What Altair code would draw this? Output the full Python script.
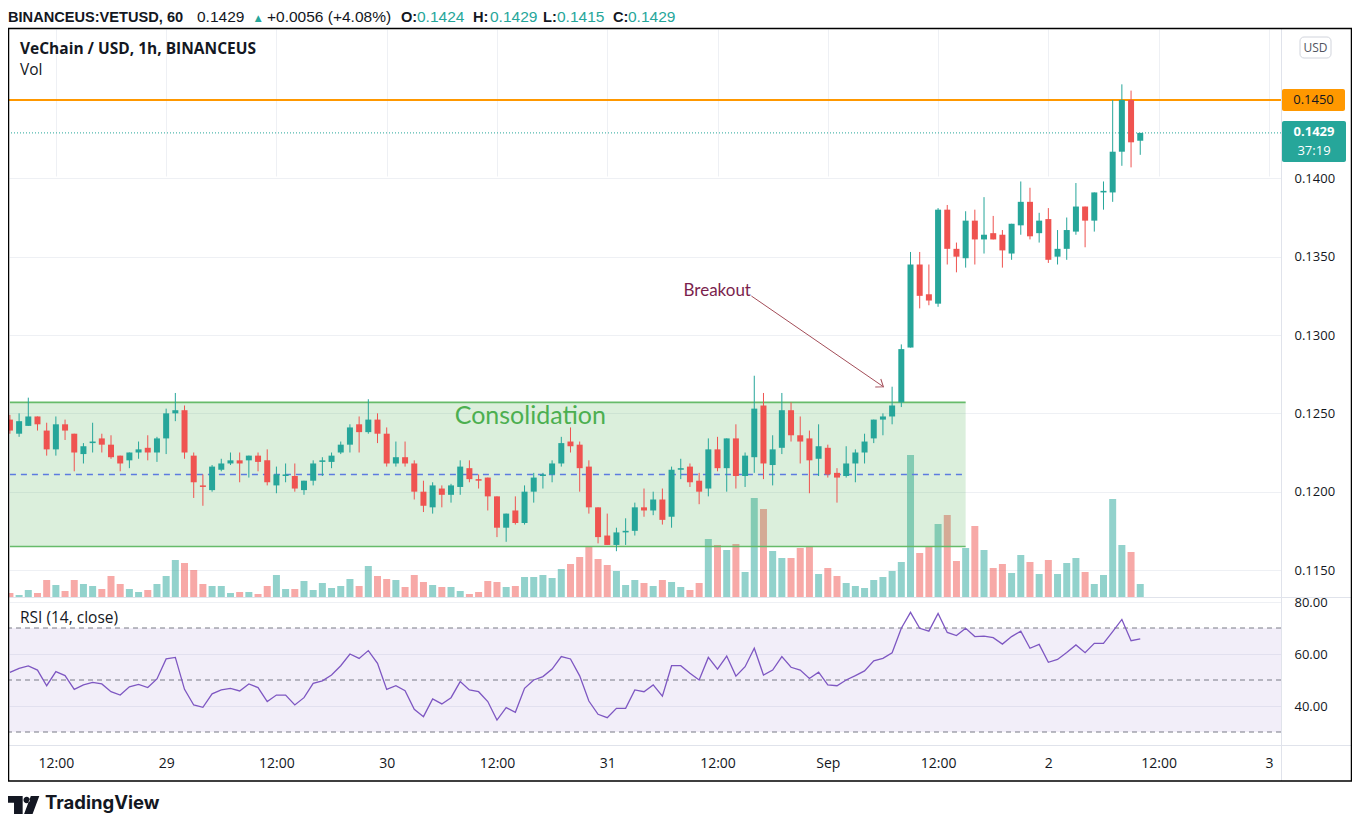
import altair as alt
import pandas as pd

# ---------------- data (1h candles, BINANCEUS:VETUSD) ----------------
FIRST_BAR = "2021-08-28 07:00"
OPEN = [0.1246,0.1237,0.1242,0.1248,0.1239,0.1227,0.1243,0.1237,0.1224,0.1231,
        0.1234,0.1230,0.1223,0.1220,0.1225,0.1228,0.1225,0.1234,0.1250,0.1252,
        0.1223,0.1204,0.1201,0.1214,0.1218,0.1220,0.1220,0.1223,0.1220,0.1204,
        0.1210,0.1210,0.1201,0.1207,0.1219,0.1219,0.1225,0.1230,0.1243,0.1238,
        0.1246,0.1237,0.1218,0.1222,0.1218,0.1200,0.1190,0.1202,0.1198,0.1203,
        0.1215,0.1208,0.1209,0.1197,0.1177,0.1188,0.1180,0.1200,0.1210,0.1211,
        0.1218,0.1232,0.1230,0.1216,0.1190,0.1172,0.1166,0.1174,0.1175,0.1190,
        0.1188,0.1195,0.1184,0.1214,0.1216,0.1207,0.1202,0.1227,0.1215,0.1234,
        0.1210,0.1222,0.1255,0.1217,0.1228,0.1252,0.1236,0.1234,0.1221,0.1228,
        0.1212,0.1210,0.1218,0.1225,0.1234,0.1246,0.1248,0.1257,0.1292,0.1345,
        0.1326,0.1320,0.1380,0.1355,0.1349,0.1373,0.1361,0.1365,0.1364,0.1352,
        0.1370,0.1385,0.1365,0.1374,0.1350,0.1355,0.1366,0.1382,0.1373,0.1391,
        0.1391,0.1417,0.1450,0.1424]
HIGH = [0.1249,0.1250,0.1260,0.1248,0.1244,0.1248,0.1246,0.1237,0.1231,0.1244,
        0.1237,0.1236,0.1223,0.1225,0.1232,0.1236,0.1235,0.1253,0.1263,0.1255,
        0.1225,0.1211,0.1217,0.1221,0.1225,0.1225,0.1223,0.1225,0.1227,0.1216,
        0.1218,0.1218,0.1207,0.1220,0.1222,0.1225,0.1232,0.1243,0.1248,0.1259,
        0.1250,0.1241,0.1232,0.1232,0.1220,0.1207,0.1206,0.1204,0.1205,0.1220,
        0.1220,0.1211,0.1209,0.1197,0.1186,0.1197,0.1204,0.1212,0.1212,0.1220,
        0.1235,0.1241,0.1232,0.1220,0.1190,0.1186,0.1177,0.1183,0.1193,0.1202,
        0.1200,0.1202,0.1216,0.1221,0.1218,0.1212,0.1234,0.1235,0.1234,0.1243,
        0.1225,0.1274,0.1263,0.1236,0.1263,0.1257,0.1248,0.1239,0.1243,0.1230,
        0.1215,0.1229,0.1227,0.1237,0.1246,0.1250,0.1267,0.1294,0.1353,0.1353,
        0.1345,0.1381,0.1383,0.1359,0.1379,0.1380,0.1388,0.1376,0.1367,0.1371,
        0.1398,0.1394,0.1378,0.1381,0.1367,0.1375,0.1397,0.1382,0.1391,0.1398,
        0.1450,0.1460,0.1456,0.1429]
LOW = [0.1237,0.1235,0.1242,0.1239,0.1223,0.1223,0.1233,0.1213,0.1218,0.1225,
       0.1225,0.1221,0.1213,0.1215,0.1221,0.1220,0.1219,0.1224,0.1245,0.1221,
       0.1196,0.1191,0.1200,0.1213,0.1217,0.1206,0.1209,0.1213,0.1204,0.1199,
       0.1206,0.1200,0.1198,0.1204,0.1210,0.1215,0.1224,0.1225,0.1225,0.1237,
       0.1231,0.1216,0.1216,0.1216,0.1195,0.1187,0.1186,0.1190,0.1193,0.1198,
       0.1206,0.1202,0.1188,0.1171,0.1168,0.1179,0.1179,0.1193,0.1202,0.1206,
       0.1216,0.1225,0.1200,0.1186,0.1167,0.1166,0.1162,0.1166,0.1172,0.1184,
       0.1185,0.1179,0.1177,0.1208,0.1203,0.1192,0.1197,0.1213,0.1200,0.1202,
       0.1203,0.1212,0.1208,0.1204,0.1224,0.1232,0.1218,0.1199,0.1210,0.1209,
       0.1193,0.1209,0.1206,0.1218,0.1231,0.1236,0.1243,0.1254,0.1292,0.1317,
       0.1319,0.1318,0.1345,0.1340,0.1343,0.1345,0.1352,0.1361,0.1343,0.1348,
       0.1364,0.1361,0.1359,0.1346,0.1345,0.1348,0.1364,0.1356,0.1366,0.1380,
       0.1385,0.1408,0.1407,0.1415]
CLOSE = [0.1239,0.1245,0.1248,0.1243,0.1227,0.1243,0.1239,0.1225,0.1229,0.1232,
         0.1230,0.1222,0.1218,0.1225,0.1227,0.1225,0.1234,0.1250,0.1252,0.1225,
         0.1206,0.1203,0.1216,0.1218,0.1220,0.1218,0.1223,0.1219,0.1206,0.1211,
         0.1211,0.1202,0.1207,0.1218,0.1220,0.1223,0.1230,0.1241,0.1238,0.1246,
         0.1237,0.1218,0.1222,0.1218,0.1200,0.1191,0.1204,0.1198,0.1204,0.1216,
         0.1208,0.1207,0.1197,0.1177,0.1186,0.1180,0.1200,0.1209,0.1211,0.1218,
         0.1231,0.1229,0.1215,0.1190,0.1171,0.1166,0.1174,0.1175,0.1190,0.1188,
         0.1195,0.1182,0.1214,0.1215,0.1206,0.1200,0.1227,0.1215,0.1234,0.1210,
         0.1223,0.1253,0.1218,0.1227,0.1252,0.1236,0.1232,0.1220,0.1229,0.1211,
         0.1209,0.1218,0.1225,0.1232,0.1246,0.1248,0.1255,0.1291,0.1345,0.1325,
         0.1322,0.1380,0.1355,0.1350,0.1373,0.1361,0.1364,0.1361,0.1354,0.1371,
         0.1385,0.1363,0.1373,0.1348,0.1355,0.1367,0.1382,0.1373,0.1391,0.1392,
         0.1417,0.1450,0.1423,0.1429]
VOLUME_K = [400,200,700,400,1700,1200,600,1700,1300,1100,
            800,2100,1300,800,500,700,1300,2100,3700,3400,
            2700,1300,1100,1100,400,500,500,300,1100,2200,
            800,800,1600,700,1400,900,1100,1800,1100,3100,
            2100,1800,1700,1000,2200,1500,1200,1000,1000,600,
            300,500,1600,1500,1000,1100,2000,2000,2200,1900,
            2800,3300,4000,5000,3800,3200,2600,1200,1700,1400,
            1100,1700,1500,1000,700,1400,5800,5200,4700,5300,
            2500,9900,8800,4600,3900,3900,4900,5100,2300,2900,
            2100,1400,1100,900,1700,2000,2600,3500,14200,4400,
            5100,7300,8200,3600,4900,7100,4700,2900,3300,2400,
            4200,3500,2300,3700,2300,3400,3900,2500,1300,2200,
            9800,5200,4500,1300]
RSI = [52.9,54.5,55.4,53.8,47.8,53.2,51.7,46.4,48.1,49.1,
       48.5,45.5,44.2,47.4,48.3,47.1,50.4,58.1,58.7,46.4,
       40.4,39.5,44.7,46.2,46.8,45.8,48.5,47.1,41.7,44.2,
       44.2,40.4,43.2,48.7,49.7,51.9,55.5,60.0,58.3,61.3,
       56.4,46.4,47.8,45.9,38.7,35.9,42.7,40.8,43.2,49.4,
       46.2,45.5,41.7,34.6,39.4,37.6,46.8,50.0,51.3,54.2,
       59.0,58.1,51.6,41.9,36.8,35.5,39.1,39.1,46.2,45.5,
       48.1,43.8,55.5,55.5,52.6,50.0,58.7,54.2,59.2,51.5,
       55.1,62.2,51.9,53.8,59.0,54.9,53.8,50.6,53.0,48.1,
       47.8,50.0,51.7,53.5,57.4,58.3,60.5,69.9,76.0,69.9,
       68.8,75.6,68.3,67.1,69.9,66.7,66.9,66.3,63.8,66.7,
       68.8,62.2,63.7,56.8,57.9,60.6,63.5,60.5,64.1,64.1,
       68.6,73.3,65.1,65.8]

X_START = "2021-08-28 06:54"
X_END = "2021-09-03 01:19"
TICK_TIMES = ["2021-08-28 12:00", "2021-08-29 00:00", "2021-08-29 12:00", "2021-08-30 00:00",
              "2021-08-30 12:00", "2021-08-31 00:00", "2021-08-31 12:00", "2021-09-01 00:00",
              "2021-09-01 12:00", "2021-09-02 00:00", "2021-09-02 12:00", "2021-09-03 00:00"]
PRICE_TICKS = [0.1150, 0.1200, 0.1250, 0.1300, 0.1350, 0.1400]
PRICE_DOMAIN = [0.113277, 0.149532]
VOL_DOMAIN = [0, 56800]
RSI_TICKS = [40, 60, 80]
RSI_DOMAIN = [25, 81.54]
RSI_LEVELS = [70, 50, 30]
RSI_BAND = [30, 70]

BOX_START, BOX_END = "2021-08-28 07:00", "2021-09-01 15:00"
BOX_TOP, BOX_BOTTOM, BOX_MID = 0.1257, 0.1165, 0.1211
RESISTANCE = 0.1450
LAST_PRICE = 0.1429
COUNTDOWN = "37:19"
CONSOL_T, CONSOL_P = "2021-08-30 07:24", 0.12483
BREAK_T, BREAK_P = "2021-08-31 08:18", 0.13281
ARROW_T0, ARROW_P0 = "2021-08-31 15:41", 0.13249
ARROW_T1, ARROW_P1 = "2021-09-01 06:03", 0.12670

# (text, x, weight, colour, size)
HEADER = [("BINANCEUS:VETUSD, 60", -1, "bold", "#131722", 14.6),
          ("0.1429", 188, "normal", "#131722", 15.5),
          ("\u25B2", 243.5, "normal", "#26a69a", 11.5),
          ("+0.0056 (+4.08%)", 258, "normal", "#131722", 15.5),
          ("O:", 392, "bold", "#131722", 14.6), ("0.1424", 408, "normal", "#26a69a", 15.5),
          ("H:", 464, "bold", "#131722", 14.6), ("0.1429", 481, "normal", "#26a69a", 15.5),
          ("L:", 534, "bold", "#131722", 14.6), ("0.1415", 548, "normal", "#26a69a", 15.5),
          ("C:", 604, "bold", "#131722", 14.6), ("0.1429", 619, "normal", "#26a69a", 15.5)]

# ---------------- styles ----------------
UP, DOWN = "#26a69a", "#ef5350"
FONT = "Open Sans"
HFONT = "Liberation Sans"
TXT = "#131722"
GRID = "#eef0f4"
SEP = "#e0e3eb"
W, H = 1272, 716
PRICE_H = 568
# TradingView logo drawn as one filled symbol path (T block, dot, slash)
LOGO_PATH = ("M -1 -0.5625 L -0.04 -0.5625 L -0.04 0.5625 L -0.58 0.5625 L -0.58 -0.14 L -1 -0.14 Z "
             "M 0.01 -0.3125 A 0.2 0.2 0 1 0 0.41 -0.3125 A 0.2 0.2 0 1 0 0.01 -0.3125 Z "
             "M 0.47 -0.5625 L 1 -0.5625 L 0.58 0.5625 L 0.05 0.5625 Z")

def ts(s):
    return pd.Timestamp(s)

def dt(s):
    t = pd.Timestamp(s)
    return alt.DateTime(year=t.year, month=t.month, date=t.day, hours=t.hour, minutes=t.minute)

candles = pd.DataFrame({"t": pd.date_range(FIRST_BAR, periods=len(CLOSE), freq="h"),
                        "o": OPEN, "h": HIGH, "l": LOW, "c": CLOSE, "v": VOLUME_K, "rsi": RSI})
candles["dir"] = ["up" if c >= o else "down" for o, c in zip(OPEN, CLOSE)]

xscale = alt.Scale(domain=[dt(X_START), dt(X_END)], nice=False, padding=0)
xaxis = alt.Axis(values=[dt(s) for s in TICK_TIMES],
                 labelExpr="hours(datum.value) == 12 ? '12:00' : (date(datum.value) == 1 ? 'Sep' : timeFormat(datum.value, '%-d'))",
                 grid=True, gridColor=GRID, domain=False, ticks=False, tickSize=0,
                 labelPadding=11, labelFont=FONT, labelFontSize=14, labelColor=TXT,
                 labelFlush=False, labelOverlap=False)

def X(f):
    return alt.X(f + ":T", scale=xscale, axis=xaxis, title=None)

price_scale = alt.Scale(domain=PRICE_DOMAIN, range=[PRICE_H, 0], nice=False, zero=False, padding=0)
vol_scale = alt.Scale(domain=VOL_DOMAIN, range=[PRICE_H, 0], nice=False, zero=False, padding=0)
rsi_scale = alt.Scale(domain=RSI_DOMAIN, range=[H, PRICE_H + 1], nice=False, zero=False, padding=0)

price_axis = alt.Axis(orient="right", values=PRICE_TICKS, format=".4f", grid=True, gridColor=GRID,
                      domain=False, ticks=False, tickSize=0, labelPadding=13, labelFont=FONT,
                      labelFontSize=13, labelColor=TXT, labelFlush=False, labelOverlap=False)
rsi_axis = alt.Axis(orient="right", values=RSI_TICKS, format=".2f", grid=True, gridColor=GRID,
                    domain=False, ticks=False, tickSize=0, labelPadding=13, labelFont=FONT,
                    labelFontSize=13, labelColor=TXT, labelFlush=False, labelOverlap=False)

def PY(f, axis=None):
    return alt.Y(f + ":Q", scale=price_scale, axis=axis, title=None)

def RY(f, axis=None):
    return alt.Y(f + ":Q", scale=rsi_scale, axis=axis, title=None)

color_enc = alt.Color("dir:N", scale=alt.Scale(domain=["up", "down"], range=[UP, DOWN]), legend=None)
one = pd.DataFrame({"k": [0]})

# ---------------- RSI pane ----------------
band_df = pd.DataFrame({"t0": [ts(X_START)], "t1": [ts(X_END)], "lo": [RSI_BAND[0]], "hi": [RSI_BAND[1]]})
rsi_band = alt.Chart(band_df).mark_rect(color="#7e57c2", opacity=0.1).encode(
    x=X("t0"), x2="t1", y=RY("lo", rsi_axis), y2="hi")
rsi_lv = alt.Chart(pd.DataFrame({"lvl": RSI_LEVELS})).mark_rule(
    color="#787b86", strokeDash=[5, 4], strokeWidth=1).encode(y=RY("lvl"))
rsi_line = alt.Chart(candles).mark_line(color="#7e57c2", strokeWidth=1.3).encode(
    x=X("t"), y=RY("rsi"))

# ---------------- price pane ----------------
volume = alt.Chart(candles).mark_bar(size=7, opacity=0.5).encode(
    x=X("t"), y=alt.Y("v:Q", scale=vol_scale, axis=None, title=None), color=color_enc)

box_df = pd.DataFrame({"t0": [ts(BOX_START)], "t1": [ts(BOX_END)], "top": [BOX_TOP], "bot": [BOX_BOTTOM]})
box_fill = alt.Chart(box_df).mark_rect(color="#4caf50", opacity=0.2).encode(
    x=X("t0"), x2="t1", y=PY("bot"), y2="top")
edge_df = pd.DataFrame({"t0": [ts(BOX_START)] * 2, "t1": [ts(BOX_END)] * 2, "lvl": [BOX_TOP, BOX_BOTTOM]})
box_edges = alt.Chart(edge_df).mark_rule(color="#66bb6a", strokeWidth=1.6).encode(
    x=X("t0"), x2="t1", y=PY("lvl"))
mid_df = pd.DataFrame({"t0": [ts(BOX_START)], "t1": [ts(BOX_END)], "lvl": [BOX_MID]})
box_mid = alt.Chart(mid_df).mark_rule(color="#5d7be0", strokeWidth=1.6, strokeDash=[6, 5]).encode(
    x=X("t0"), x2="t1", y=PY("lvl"))
consol = alt.Chart(pd.DataFrame({"t": [ts(CONSOL_T)], "p": [CONSOL_P], "s": ["Consolidation"]})).mark_text(
    align="left", baseline="middle", font="Lato", fontSize=25, color="#4caf50").encode(
    x=X("t"), y=PY("p"), text="s:N")

resist = alt.Chart(pd.DataFrame({"p": [RESISTANCE]})).mark_rule(color="#ff9800", strokeWidth=2).encode(y=PY("p"))
lastp = alt.Chart(pd.DataFrame({"p": [LAST_PRICE]})).mark_rule(
    color=UP, strokeWidth=1, strokeDash=[1, 2]).encode(y=PY("p"))

wicks = alt.Chart(candles).mark_rule(strokeWidth=1).encode(
    x=X("t"), y=PY("l", price_axis), y2="h", color=color_enc)
bodies = alt.Chart(candles).mark_bar(size=6).encode(
    x=X("t"), y=PY("o"), y2="c", color=color_enc)

ARROW = "#a34d58"
brk = alt.Chart(pd.DataFrame({"t": [ts(BREAK_T)], "p": [BREAK_P], "s": ["Breakout"]})).mark_text(
    align="left", baseline="middle", font="Lato", fontSize=17, color="#7b1f4d").encode(
    x=X("t"), y=PY("p"), text="s:N")
arr_df = pd.DataFrame({"t0": [ts(ARROW_T0)], "t1": [ts(ARROW_T1)], "p0": [ARROW_P0], "p1": [ARROW_P1]})
arrow = alt.Chart(arr_df).mark_rule(color=ARROW, strokeWidth=1).encode(
    x=X("t0"), x2="t1", y=PY("p0"), y2="p1")
head = alt.Chart(arr_df).mark_point(shape="M -1 -0.75 L 0 0 L -1 0.75", size=170, angle=34.5,
                                    filled=False, color=ARROW, strokeWidth=1, opacity=1).encode(
    x=X("t1"), y=PY("p1"))

# ---------------- right price column ----------------
tag_r = alt.Chart(pd.DataFrame({"p": [RESISTANCE]}))
orange_tag = tag_r.mark_tick(orient="horizontal", size=63, thickness=22, color="#ff9800",
                             opacity=1, cornerRadius=2).encode(x=alt.value(1304.5), y=PY("p"))
orange_txt = tag_r.mark_text(font=FONT, fontSize=13, color=TXT).encode(
    x=alt.value(1304.5), y=PY("p"), text=alt.Text("p:Q", format=".4f"))
tag_l = alt.Chart(pd.DataFrame({"p": [LAST_PRICE], "cd": [COUNTDOWN]}))
teal_tag = tag_l.mark_tick(orient="horizontal", size=64, thickness=41, color=UP, opacity=1,
                           cornerRadius=2, yOffset=8.5).encode(x=alt.value(1305), y=PY("p"))
teal_txt = tag_l.mark_text(font=FONT, fontSize=13, fontWeight="bold", color="white", yOffset=-1).encode(
    x=alt.value(1305), y=PY("p"), text=alt.Text("p:Q", format=".4f"))
teal_cd = tag_l.mark_text(font=FONT, fontSize=13, color="white", yOffset=18).encode(
    x=alt.value(1305), y=PY("p"), text="cd:N")

usd_box = alt.Chart(one).mark_rect(fill="white", stroke="#d1d4dc", strokeWidth=1, cornerRadius=4).encode(
    x=alt.value(1291), x2=alt.value(1322), y=alt.value(8), y2=alt.value(29))
usd_txt = alt.Chart(one).mark_text(font=FONT, fontSize=12, color="#50535e").encode(
    x=alt.value(1306.5), y=alt.value(18.5), text=alt.value("USD"))

# ---------------- frame & separators ----------------
sep_v = alt.Chart(one).mark_rule(color=SEP, strokeWidth=1).encode(
    x=alt.value(W + 0.5), y=alt.value(-1), y2=alt.value(752))
sep_h1 = alt.Chart(one).mark_rule(color=SEP, strokeWidth=1).encode(
    x=alt.value(0), x2=alt.value(1343), y=alt.value(PRICE_H + 0.5))
sep_h2 = alt.Chart(one).mark_rule(color=SEP, strokeWidth=1).encode(
    x=alt.value(-1), x2=alt.value(1343), y=alt.value(H + 0.5))
frame = alt.Chart(one).mark_rect(fillOpacity=0, stroke="#000000", strokeWidth=1.5).encode(
    x=alt.value(-0.5), x2=alt.value(1342.5), y=alt.value(-0.5), y2=alt.value(752))

# ---------------- texts ----------------
texts = []
for s, px, wt, col, fs in HEADER:
    texts.append(alt.Chart(one).mark_text(align="left", baseline="alphabetic", font=HFONT,
                                          fontSize=fs, fontWeight=wt, color=col).encode(
        x=alt.value(px), y=alt.value(-6.8), text=alt.value(s)))
texts.append(alt.Chart(one).mark_text(align="left", baseline="middle", font=FONT, fontSize=15.5,
                                      fontWeight="bold", color=TXT).encode(
    x=alt.value(11), y=alt.value(20), text=alt.value("VeChain / USD, 1h, BINANCEUS")))
texts.append(alt.Chart(one).mark_text(align="left", baseline="middle", font=FONT, fontSize=15.5,
                                      color=TXT).encode(
    x=alt.value(11), y=alt.value(41), text=alt.value("Vol")))
texts.append(alt.Chart(one).mark_text(align="left", baseline="middle", font=FONT, fontSize=15.5,
                                      color=TXT).encode(
    x=alt.value(11), y=alt.value(PRICE_H + 21), text=alt.value("RSI (14, close)")))
logo = alt.Chart(one).mark_point(shape=LOGO_PATH, size=1024, filled=True, color="#131722",
                                 opacity=1, strokeWidth=0).encode(
    x=alt.value(14.3), y=alt.value(776))
texts.append(alt.Chart(one).mark_text(align="left", baseline="alphabetic", font="Inter", fontSize=18.5,
                                      fontWeight="bold", color="#131722").encode(
    x=alt.value(36), y=alt.value(780), text=alt.value("TradingView")))

chart = alt.layer(
    rsi_band, rsi_lv, rsi_line,
    volume, box_fill, box_edges, box_mid, consol,
    resist, lastp, wicks, bodies,
    brk, arrow, head,
    sep_v, sep_h1, sep_h2, frame,
    orange_tag, orange_txt, teal_tag, teal_txt, teal_cd, usd_box, usd_txt,
    logo, *texts
).resolve_scale(y="independent").properties(
    width=W, height=H,
    autosize=alt.AutoSizeParams(type="none"),
    padding={"left": 1, "top": 21, "right": 71, "bottom": 70},
).configure_view(stroke=None)

chart.save("out.html", embed_options={"renderer": "svg", "actions": False})
